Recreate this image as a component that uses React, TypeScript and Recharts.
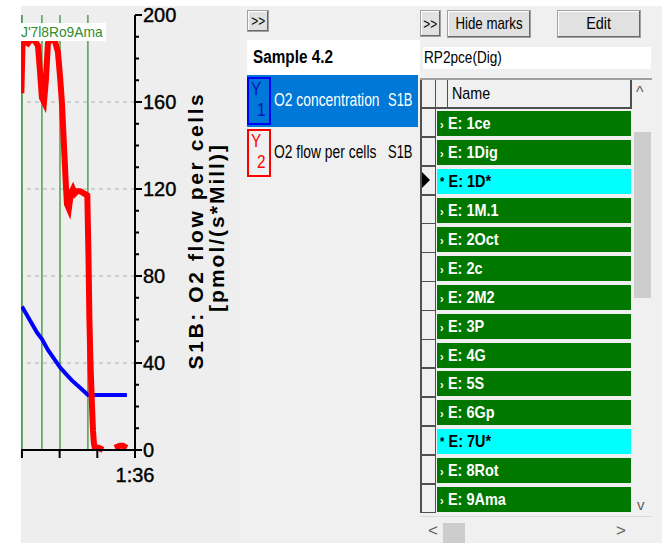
import { LineChart, Line, XAxis, YAxis, ReferenceLine } from 'recharts';

// O2 flow per cells (red), minutes vs pmol/(s*Mill)
const FLOW_TIMES = [89.97, 90.03, 90.16, 90.32, 90.48, 90.69, 90.85, 90.95, 91.06, 91.17, 91.27, 91.38, 91.54, 91.75, 91.91, 92.02, 92.12, 92.23, 92.33, 92.39, 92.49, 92.6, 92.71, 92.81, 92.92, 93.08, 93.29, 93.47, 93.53, 93.58, 93.63, 93.71, 93.77, 93.82, 93.87, 94.08, 94.3, 94.6, 94.93, 95.2, 95.36, 95.57];
const FLOW_VALUES = [164, 186, 188, 187, 189, 188, 186, 175, 162, 160, 170, 187, 189, 188, 183, 172, 160, 140, 122, 113, 111, 118, 120, 118, 119, 119, 118, 117, 90, 60, 42, 22, 9, 3, 1, 1, 0, null, 1, 2, 2, 1];

// O2 concentration (blue)
const CONC_TIMES = [90.0, 90.27, 90.53, 90.8, 91.06, 91.38, 91.7, 92.02, 92.33, 92.65, 92.97, 93.29, 93.5, 94.14, 95.57];
const CONC_VALUES = [66, 62, 58, 54, 51, 46, 42, 38, 35, 32, 29.5, 27, 25.3, 25.3, 25.3];

const MARK_TIMES = [90.0, 91.06, 92.02, 93.5];
const MARK_STRIP = "J'7l8Ro9Ama";
const GRID_VALUES = [40, 80, 120, 160];
const Y_TICKS = [0, 10, 20, 30, 40, 50, 60, 70, 80, 90, 100, 110, 120, 130, 140, 150, 160, 170, 180, 190, 200];
const X_TICKS = [90, 92, 94, 96];
const X_TICK_LABELS: Record<number, string> = { 96: '1:36' };

const EVENT_NAMES = ['1ce', '1Dig', '1D*', '1M.1', '2Oct', '2c', '2M2', '3P', '4G', '5S', '6Gp', '7U*', '8Rot', '9Ama'];
const CURRENT_EVENTS = ['1D*', '7U*'];

const flowData = FLOW_TIMES.map((t, i) => ({ t, v: FLOW_VALUES[i] }));
const concData = CONC_TIMES.map((t, i) => ({ t, v: CONC_VALUES[i] }));

const FONT = '"Liberation Sans", Arial, sans-serif';

const FlowTick = ({ x, y, payload }: any) => {
  const major = payload.value % 40 === 0;
  return (
    <g>
      <line x1={x} x2={x + (major ? 7 : 4)} y1={y} y2={y} stroke="#000" strokeWidth={2} />
      {major && (
        <text x={x + 8} y={y} dy="0.36em" fontSize={20} fontFamily={FONT} fill="#000" stroke="#000" strokeWidth={0.4}>
          {payload.value}
        </text>
      )}
    </g>
  );
};

const TimeTick = ({ x, y, payload }: any) => (
  <g>
    <line x1={x} x2={x} y1={y} y2={y + 8} stroke="#000" strokeWidth={2} />
    {X_TICK_LABELS[payload.value] && (
      <text x={x} y={y + 32} textAnchor="middle" fontSize={20} fontFamily={FONT} fill="#000" stroke="#000" strokeWidth={0.4}>
        {X_TICK_LABELS[payload.value]}
      </text>
    )}
  </g>
);

const FlowAxisLabel = ({ viewBox }: any) => {
  const cy = viewBox.y + viewBox.height / 2;
  const x1 = viewBox.x + 68;
  const x2 = viewBox.x + 89;
  return (
    <g fontFamily={FONT} fontWeight="bold" fontSize={21} fill="#000">
      <text transform={`translate(${x1},${cy - 2}) rotate(-90)`} textAnchor="middle" letterSpacing={2.6}>
        S1B: O2 flow per cells
      </text>
      <text transform={`translate(${x2},${cy - 5}) rotate(-90)`} textAnchor="middle" letterSpacing={2}>
        [pmol/(s*Mill)]
      </text>
    </g>
  );
};

// condensed UI text (the original uses a narrow system font)
function N({ children, s = 0.8, origin = 'left' }: { children: React.ReactNode; s?: number; origin?: string }) {
  return (
    <span
      style={{
        display: 'inline-block',
        transform: `scaleX(${s})`,
        transformOrigin: `${origin} center`,
        whiteSpace: 'nowrap',
      }}
    >
      {children}
    </span>
  );
}

const btn: React.CSSProperties = {
  position: 'absolute',
  background: '#e1e1e1',
  border: '1px solid #a0a0a0',
  boxShadow: 'inset -1px -1px #696969, inset 1px 1px #fff',
  display: 'flex',
  alignItems: 'center',
  justifyContent: 'center',
  fontSize: 17,
  color: '#000',
  boxSizing: 'border-box',
  whiteSpace: 'nowrap',
};

const abs = (left: number, top: number, extra: React.CSSProperties = {}): React.CSSProperties => ({
  position: 'absolute',
  left,
  top,
  whiteSpace: 'nowrap',
  ...extra,
});

function YBox({ n, color, textColor, top }: { n: number; color: string; textColor: string; top: number }) {
  return (
    <div
      style={{
        position: 'absolute',
        left: 247,
        top,
        width: 24,
        height: 48,
        border: `2px solid ${color}`,
        boxSizing: 'border-box',
        color: textColor,
        fontSize: 18,
      }}
    >
      <span style={{ position: 'absolute', left: 2, top: 0, lineHeight: '20px' }}>
        <N s={0.85}>Y</N>
      </span>
      <span style={{ position: 'absolute', left: 8, top: 21, lineHeight: '20px' }}>
        <N s={0.85}>{n}</N>
      </span>
    </div>
  );
}

export default function App() {
  const rowPitch = 28.9;
  const rowTop = 108.3;
  return (
    <div
      style={{
        position: 'absolute',
        left: 0,
        top: 0,
        width: 662,
        height: 543,
        overflow: 'hidden',
        background: '#f0f0f0',
        fontFamily: FONT,
      }}
    >
      {/* chart panel */}
      <div style={{ position: 'absolute', left: 0, top: 0, width: 240, height: 543, background: '#eeeeee' }} />
      <div style={{ position: 'absolute', left: 0, top: 0, width: 21, height: 543, background: '#fff' }} />
      <div style={{ position: 'absolute', left: 0, top: 0, width: 662, height: 6, background: '#fff' }} />

      <div style={{ position: 'absolute', left: 0, top: 0 }}>
        <LineChart width={240} height={543} margin={{ top: 15, left: 21, right: 5, bottom: 63 }}>
          <XAxis
            type="number"
            dataKey="t"
            domain={[89.95, 96]}
            ticks={X_TICKS}
            interval={0}
            allowDataOverflow
            height={30}
            tickSize={0}
            tickMargin={0}
            tick={<TimeTick />}
            axisLine={{ stroke: '#000', strokeWidth: 2 }}
          />
          <YAxis
            orientation="right"
            type="number"
            domain={[0, 200]}
            ticks={Y_TICKS}
            interval={0}
            width={100}
            tickSize={0}
            tickMargin={0}
            tick={<FlowTick />}
            axisLine={{ stroke: '#000', strokeWidth: 2 }}
            label={{ content: FlowAxisLabel }}
          />
          {GRID_VALUES.map((v) => (
            <ReferenceLine key={v} y={v} stroke="#c4c4c4" strokeWidth={1.5} strokeDasharray="4 4" />
          ))}
          {MARK_TIMES.map((t, i) => (
            <ReferenceLine key={t} x={t} stroke={i === 0 ? '#2f8a2f' : '#4fa04f'} strokeWidth={1.5} />
          ))}
          <Line
            data={concData}
            dataKey="v"
            type="linear"
            stroke="#0000ff"
            strokeWidth={4}
            dot={false}
            isAnimationActive={false}
          />
          <Line
            data={flowData}
            dataKey="v"
            type="linear"
            stroke="#ff0000"
            strokeWidth={6}
            dot={false}
            connectNulls={false}
            isAnimationActive={false}
          />
        </LineChart>
      </div>

      <div
        style={{
          position: 'absolute',
          left: 21,
          top: 23,
          width: 85,
          height: 18,
          background: '#fff',
          color: '#2e8b2e',
          fontSize: 15,
          lineHeight: '18px',
          whiteSpace: 'nowrap',
          overflow: 'hidden',
        }}
      >
        <N s={0.92}>{MARK_STRIP}</N>
      </div>

      {/* middle panel */}
      <div style={{ ...btn, left: 247, top: 10, width: 22, height: 22, fontSize: 14 }}>
        <N s={0.85} origin="center">&gt;&gt;</N>
      </div>
      <div
        style={{
          position: 'absolute',
          left: 247,
          top: 40,
          width: 173,
          height: 35,
          background: '#fff',
          fontWeight: 'bold',
          fontSize: 18,
          lineHeight: '35px',
          paddingLeft: 6,
          boxSizing: 'border-box',
        }}
      >
        <N s={0.85}>Sample 4.2</N>
      </div>
      <div style={{ position: 'absolute', left: 247, top: 75, width: 171, height: 52, background: '#0078d7' }} />
      <YBox n={1} color="#0000ff" textColor="#0010c0" top={77} />
      <div style={abs(274, 90, { fontSize: 18, color: '#fff' })}>
        <N s={0.77}>O2 concentration</N>
      </div>
      <div style={abs(388, 90, { fontSize: 18, color: '#fff' })}>
        <N s={0.72}>S1B</N>
      </div>
      <YBox n={2} color="#ff0000" textColor="#ff0000" top={129} />
      <div style={abs(274, 142, { fontSize: 18, color: '#000' })}>
        <N s={0.77}>O2 flow per cells</N>
      </div>
      <div style={abs(388, 142, { fontSize: 18, color: '#000' })}>
        <N s={0.72}>S1B</N>
      </div>

      {/* right panel */}
      <div style={{ ...btn, left: 420, top: 10, width: 21, height: 27, fontSize: 14 }}>
        <N s={0.85} origin="center">&gt;&gt;</N>
      </div>
      <div style={{ ...btn, left: 447, top: 10, width: 84, height: 28 }}>
        <N s={0.78} origin="center">Hide marks</N>
      </div>
      <div style={{ ...btn, left: 557, top: 10, width: 84, height: 28 }}>
        <N s={0.85} origin="center">Edit</N>
      </div>
      <div
        style={{
          position: 'absolute',
          left: 423,
          top: 47,
          width: 227,
          height: 22,
          background: '#fff',
          fontSize: 17,
          lineHeight: '22px',
          paddingLeft: 1,
        }}
      >
        <N s={0.8}>RP2pce(Dig)</N>
      </div>

      <div style={{ position: 'absolute', left: 420, top: 78, width: 232, height: 2, background: '#a0a0a0' }} />
      <div style={{ position: 'absolute', left: 420, top: 107, width: 212, height: 1.5, background: '#505050' }} />
      <div style={{ position: 'absolute', left: 420, top: 80, width: 1.5, height: 433, background: '#505050' }} />
      <div style={{ position: 'absolute', left: 434.5, top: 80, width: 1.5, height: 433, background: '#505050' }} />
      <div style={{ position: 'absolute', left: 446.5, top: 80, width: 1.5, height: 28, background: '#505050' }} />
      <div style={{ position: 'absolute', left: 630, top: 80, width: 1.5, height: 28, background: '#505050' }} />
      <div style={abs(452, 84, { fontSize: 17 })}>
        <N s={0.84}>Name</N>
      </div>

      {EVENT_NAMES.map((name, i) => {
        const top = rowTop + i * rowPitch;
        const current = CURRENT_EVENTS.includes(name);
        return (
          <div key={name}>
            <div style={{ position: 'absolute', left: 420, top: top + rowPitch - 1, width: 15, height: 1.5, background: '#505050' }} />
            <div
              style={{
                position: 'absolute',
                left: 437,
                top: top + 3,
                width: 194,
                height: 25,
                background: current ? '#00ffff' : '#007800',
                color: current ? '#000' : '#fff',
                fontWeight: 'bold',
                fontSize: 17,
                lineHeight: '25px',
                paddingLeft: 3,
                boxSizing: 'border-box',
                whiteSpace: 'nowrap',
              }}
            >
              <N s={0.85}>
                <span style={{ fontSize: 13, verticalAlign: current ? 'top' : 'middle', marginRight: 5 }}>
                  {current ? '*' : '›'}
                </span>
                E: {name}
              </N>
            </div>
          </div>
        );
      })}
      <div
        style={{
          position: 'absolute',
          left: 422,
          top: rowTop + 2 * rowPitch + 6,
          width: 0,
          height: 0,
          borderTop: '8px solid transparent',
          borderBottom: '8px solid transparent',
          borderLeft: '8px solid #000',
        }}
      />

      {/* scrollbars */}
      <div style={{ position: 'absolute', left: 633, top: 108, width: 19, height: 410, background: '#f0f0f0' }} />
      <div style={{ position: 'absolute', left: 634, top: 132, width: 17, height: 166, background: '#cdcdcd' }} />
      <div style={abs(636, 84, { fontSize: 16, color: '#606060' })}>^</div>
      <div style={abs(637, 496, { fontSize: 15, color: '#606060' })}>v</div>
      <div style={{ position: 'absolute', left: 420, top: 516, width: 232, height: 1, background: '#dadada' }} />
      <div style={{ position: 'absolute', left: 443, top: 523, width: 22, height: 20, background: '#cdcdcd' }} />
      <div style={abs(428, 521, { fontSize: 17, color: '#606060' })}>&lt;</div>
      <div style={abs(616, 521, { fontSize: 17, color: '#606060' })}>&gt;</div>
    </div>
  );
}
